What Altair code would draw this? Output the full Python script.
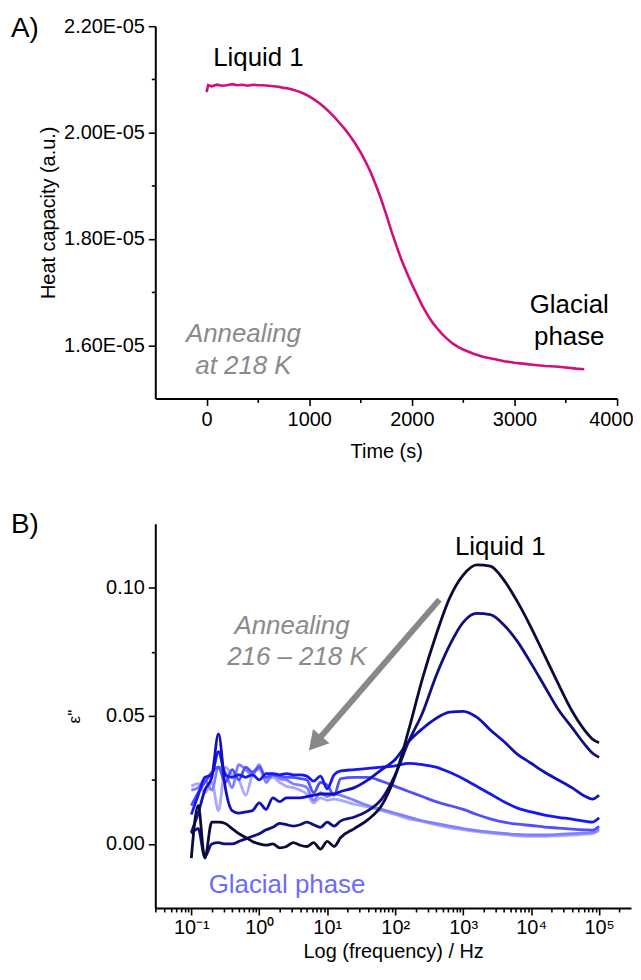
import altair as alt
import pandas as pd

FONT = "Liberation Sans"

# ---------------- Panel A data (heat capacity in units of 1E-05) ----------------
time_s = [0, 15, 50, 100, 150, 200, 250, 300, 350, 400, 450, 500, 550, 600, 650, 700,
          750, 800, 850, 900, 950, 1000, 1050, 1100, 1150, 1200, 1250, 1300, 1350, 1400,
          1450, 1500, 1550, 1600, 1650, 1700, 1750, 1800, 1850, 1900, 1950, 2000, 2050,
          2100, 2150, 2200, 2250, 2300, 2350, 2400, 2450, 2500, 2600, 2700, 2800, 2900,
          3000, 3100, 3200, 3300, 3400, 3500, 3600, 3680]
heat_cap = [2.076, 2.089, 2.087, 2.090, 2.088, 2.089, 2.091, 2.089, 2.090, 2.088, 2.090,
            2.089, 2.089, 2.088, 2.087, 2.086, 2.084, 2.083, 2.080, 2.077, 2.073, 2.068,
            2.062, 2.055, 2.047, 2.038, 2.028, 2.017, 2.006, 1.993, 1.979, 1.963, 1.945,
            1.925, 1.901, 1.875, 1.846, 1.815, 1.787, 1.760, 1.737, 1.715, 1.695, 1.675,
            1.658, 1.643, 1.631, 1.620, 1.611, 1.603, 1.597, 1.592, 1.584, 1.578, 1.574,
            1.570, 1.567, 1.565, 1.563, 1.561, 1.560, 1.558, 1.556, 1.555]

# ---------------- Panel B data ----------------
freq = [0.1, 0.126, 0.158, 0.2, 0.251, 0.316, 0.398, 0.501, 0.631, 0.794, 1, 1.26, 1.58,
        2, 2.51, 3.16, 3.98, 5.01, 6.31, 7.94, 10, 12.6, 15.8, 25.1, 39.8, 63.1, 100, 158,
        251, 398, 631, 1000, 1585, 2512, 3981, 6310, 10000, 15850, 25120, 39810, 63100,
        79430, 100000]

eps_L1 = [-0.0055, 0.015, -0.0055, 0.0085, 0.0085, 0.0080, 0.0060, 0.0040, 0.0025, 0.0010,
          0.0000, -0.0005, 0.0000, -0.0015, -0.0010, 0.0005, -0.0005, -0.0010, 0.0005,
          -0.0020, 0.0010, -0.0010, 0.0025, 0.0060, 0.0095, 0.0150, 0.0265, 0.0445, 0.0645,
          0.0815, 0.0960, 0.1050, 0.1090, 0.1085, 0.1030, 0.0945, 0.0845, 0.0735, 0.0625,
          0.0520, 0.0440, 0.0410, 0.0395]
eps_L2 = [0.0040, 0.0060, -0.0050, 0.0000, 0.0005, 0.0000, 0.0000, 0.0010, 0.0020, 0.0030,
          0.0040, 0.0055, 0.0065, 0.0080, 0.0075, 0.0070, 0.0075, 0.0085, 0.0075, 0.0065,
          0.0085, 0.0070, 0.0090, 0.0105, 0.0130, 0.0175, 0.0270, 0.0400, 0.0510, 0.0655,
          0.0775, 0.0865, 0.0900, 0.0895, 0.0855, 0.0790, 0.0705, 0.0615, 0.0525, 0.0455,
          0.0385, 0.0355, 0.0338]
eps_L3 = [0.0045, 0.0120, 0.0210, 0.0260, 0.0430, 0.0220, 0.0130, 0.0120, 0.0125, 0.0130,
          0.0160, 0.0135, 0.0180, 0.0165, 0.0180, 0.0180, 0.0180, 0.0185, 0.0190, 0.0195,
          0.0195, 0.0195, 0.0205, 0.0220, 0.0250, 0.0290, 0.0330, 0.0400, 0.0450, 0.0490,
          0.0515, 0.0518, 0.0495, 0.0445, 0.0400, 0.0350, 0.0315, 0.0280, 0.0250, 0.0220,
          0.0185, 0.0175, 0.0190]
eps_L4 = [0.0115, 0.0190, 0.0260, 0.0270, 0.0360, 0.0270, 0.0260, 0.0270, 0.0260, 0.0270,
          0.0250, 0.0275, 0.0275, 0.0270, 0.0275, 0.0270, 0.0270, 0.0265, 0.0245, 0.0265,
          0.0215, 0.0270, 0.0285, 0.0290, 0.0295, 0.0300, 0.0305, 0.0315, 0.0310, 0.0300,
          0.0280, 0.0255, 0.0225, 0.0195, 0.0165, 0.0140, 0.0125, 0.0113, 0.0104, 0.0097,
          0.0088, 0.0085, 0.0102]
eps_L5 = [0.0150, 0.0200, 0.0240, 0.0280, 0.0300, 0.0240, 0.0290, 0.0250, 0.0300, 0.0280,
          0.0300, 0.0260, 0.0270, 0.0265, 0.0260, 0.0260, 0.0255, 0.0250, 0.0200, 0.0240,
          0.0230, 0.0190, 0.0255, 0.0260, 0.0260, 0.0245, 0.0225, 0.0205, 0.0185, 0.0165,
          0.0150, 0.0135, 0.0115, 0.0098, 0.0085, 0.0077, 0.0072, 0.0066, 0.0062, 0.0058,
          0.0055, 0.0054, 0.0069]
eps_L6 = [0.0210, 0.0220, 0.0250, 0.0210, 0.0300, 0.0280, 0.0220, 0.0310, 0.0290, 0.0270,
          0.0310, 0.0240, 0.0270, 0.0255, 0.0250, 0.0235, 0.0230, 0.0220, 0.0170, 0.0200,
          0.0185, 0.0195, 0.0190, 0.0170, 0.0150, 0.0135, 0.0120, 0.0105, 0.0090, 0.0080,
          0.0070, 0.0060, 0.0052, 0.0046, 0.0041, 0.0037, 0.0035, 0.0035, 0.0037, 0.0040,
          0.0043, 0.0045, 0.0060]
eps_L7 = [0.0225, 0.0235, 0.0200, 0.0240, 0.0130, 0.0300, 0.0270, 0.0250, 0.0190, 0.0270,
          0.0290, 0.0250, 0.0260, 0.0240, 0.0225, 0.0220, 0.0210, 0.0195, 0.0160, 0.0180,
          0.0170, 0.0175, 0.0170, 0.0155, 0.0145, 0.0130, 0.0115, 0.0098, 0.0088, 0.0075,
          0.0064, 0.0056, 0.0048, 0.0042, 0.0037, 0.0032, 0.0030, 0.0030, 0.0032, 0.0035,
          0.0038, 0.0040, 0.0052]

series_B = [eps_L7, eps_L6, eps_L5, eps_L4, eps_L3, eps_L2, eps_L1]
colors_B = ["#a8a8ff", "#8080ff", "#5050ff", "#1818f5", "#1010c0", "#0e0e80", "#0b0b3a"]

# annotations
ann_A = pd.DataFrame({
    "t": [505, 3534, 3534], "cp": [2.140, 1.675, 1.615],
    "txt": ["Liquid 1", "Glacial", "phase"]})
ann_A_gray = pd.DataFrame({"t": [359, 359], "cp": [1.621, 1.561],
                           "txt": ["Annealing", "at 218 K"]})
ann_B = pd.DataFrame({"f": [3510], "e": [0.1161], "txt": ["Liquid 1"]})
ann_B_gray = pd.DataFrame({"f": [3.03, 3.58], "e": [0.0849, 0.0728],
                           "txt": ["Annealing", "216 – 218 K"]})
ann_B_blue = pd.DataFrame({"f": [2.56], "e": [-0.0159], "txt": ["Glacial phase"]})
arrow_line = pd.DataFrame({"f": [448], "e": [0.0954], "f2": [7.0], "e2": [0.0400]})
arrow_head = pd.DataFrame({"f": [6.62], "e": [0.0393]})

# tick values
ticks_A_x = [0, 500, 1000, 1500, 2000, 2500, 3000, 3500, 4000]
ticks_A_y = [1.6, 1.7, 1.8, 1.9, 2.0, 2.1, 2.2]
ticks_B_y = [0.0, 0.025, 0.05, 0.075, 0.1]
majors_B = [0.1, 1, 10, 100, 1000, 10000, 100000]
minors_B = [0.03, 0.04, 0.05, 0.06, 0.07, 0.08, 0.09,
            0.2, 0.3, 0.4, 0.5, 0.6, 0.7, 0.8, 0.9,
            2, 3, 4, 5, 6, 7, 8, 9,
            20, 30, 40, 50, 60, 70, 80, 90,
            200, 300, 400, 500, 600, 700, 800, 900,
            2000, 3000, 4000, 5000, 6000, 7000, 8000, 9000,
            20000, 30000, 40000, 50000, 60000, 70000, 80000, 90000, 200000]

W_A, H_A = 464, 374
W_B, H_B = 478, 386

common_axis = dict(domainColor="black", domainWidth=2, tickColor="black", tickWidth=1.6,
                   labelColor="black", titleColor="black", labelFont=FONT, titleFont=FONT,
                   labelFontSize=20, titleFontSize=20, titleFontWeight="normal",
                   grid=False, labelOverlap=False)

# ---------------- Panel A ----------------
dfA = pd.DataFrame({"t": time_s, "cp": heat_cap})
xA_scale = alt.Scale(domain=[-500, 4000], nice=False, zero=False)
yA_scale = alt.Scale(domain=[1.5, 2.2], nice=False, zero=False)
xA_axis = alt.Axis(values=ticks_A_x, format="d", title="Time (s)",
                   labelExpr="datum.value % 1000 === 0 ? datum.label : ''",
                   tickSize={"condition": {"test": "datum.value % 1000 === 0", "value": 7}, "value": 4},
                   labelFlush=True, labelFlushOffset=16,
                   labelPadding=4, titlePadding=12, **common_axis)
yA_axis = alt.Axis(values=ticks_A_y, title="Heat capacity (a.u.)",
                   labelExpr="abs(round(datum.value*10)) % 2 == 0 ? format(datum.value, '.2f') + 'E-05' : ''",
                   tickSize={"condition": {"test": "abs(round(datum.value*10)) % 2 == 0", "value": 7}, "value": 4},
                   labelFlush=False, labelPadding=4, titlePadding=5, **common_axis)


def encA(extra=None):
    d = dict(x=alt.X("t:Q", scale=xA_scale, axis=xA_axis),
             y=alt.Y("cp:Q", scale=yA_scale, axis=yA_axis))
    if extra:
        d.update(extra)
    return d


lineA = alt.Chart(dfA).mark_line(color="#d0107a", strokeWidth=2.6).encode(**encA())
txtA = alt.Chart(ann_A).mark_text(font=FONT, fontSize=26, color="black").encode(
    **encA({"text": "txt:N"}))
txtA_gray = alt.Chart(ann_A_gray).mark_text(font=FONT, fontSize=26, fontStyle="italic",
                                             color="#8a8a8a").encode(**encA({"text": "txt:N"}))
labelA = alt.Chart(pd.DataFrame({"txt": ["A)"]})).mark_text(
    font=FONT, fontSize=28, align="left", baseline="middle", color="black").encode(
    x=alt.value(-145), y=alt.value(3), text="txt:N")
panelA = alt.layer(lineA, txtA, txtA_gray, labelA).properties(width=W_A, height=H_A)

# ---------------- Panel B ----------------
sup = {0.1: "10⁻¹", 1: "10⁰", 10: "10¹", 100: "10²", 1000: "10³", 10000: "10⁴", 100000: "10⁵"}
label_expr_B = " : ".join([f"datum.value == {k} ? '{v}'" for k, v in sup.items()]) + " : ''"
major_test_B = "abs(log(datum.value)/LN10 - round(log(datum.value)/LN10)) < 0.001"

xB_scale = alt.Scale(type="log", domain=[0.0295, 295000], nice=False)
yB_scale = alt.Scale(domain=[-0.025, 0.125], nice=False, zero=False)
xB_axis = alt.Axis(values=sorted(majors_B + minors_B), title="Log (frequency) / Hz",
                   labelExpr=label_expr_B,
                   tickSize={"condition": {"test": major_test_B, "value": 7}, "value": 4},
                   labelFlush=False, labelPadding=3, titlePadding=4, **common_axis)
yB_axis = alt.Axis(values=ticks_B_y, title="ε''",
                   labelExpr="abs(round(datum.value*40)) % 2 == 0 ? format(datum.value, '.2f') : ''",
                   tickSize={"condition": {"test": "abs(round(datum.value*40)) % 2 == 0", "value": 7}, "value": 4},
                   labelFlush=False, labelPadding=4, titleX=-81, titleBaseline="middle",
                   **{**common_axis, "titleFontSize": 17})


def encB(extra=None):
    d = dict(x=alt.X("f:Q", scale=xB_scale, axis=xB_axis),
             y=alt.Y("e:Q", scale=yB_scale, axis=yB_axis))
    if extra:
        d.update(extra)
    return d


layersB = []
for vals, col in zip(series_B, colors_B):
    df = pd.DataFrame({"f": freq, "e": vals})
    layersB.append(alt.Chart(df).mark_line(color=col, strokeWidth=2.8,
                                           interpolate="monotone").encode(**encB()))

arrowB = alt.Chart(arrow_line).mark_rule(color="#888888", strokeWidth=6).encode(
    **encB({"x2": "f2:Q", "y2": "e2:Q"}))
headB = alt.Chart(arrow_head).mark_point(shape="triangle-up", filled=True, size=480,
                                         color="#888888", opacity=1, angle=221).encode(**encB())
txtB = alt.Chart(ann_B).mark_text(font=FONT, fontSize=26, color="black").encode(
    **encB({"text": "txt:N"}))
txtB_gray = alt.Chart(ann_B_gray).mark_text(font=FONT, fontSize=26, fontStyle="italic",
                                             color="#8a8a8a").encode(**encB({"text": "txt:N"}))
txtB_blue = alt.Chart(ann_B_blue).mark_text(font=FONT, fontSize=26, color="#6b6bff").encode(
    **encB({"text": "txt:N"}))
labelB = alt.Chart(pd.DataFrame({"txt": ["B)"]})).mark_text(
    font=FONT, fontSize=28, align="left", baseline="middle", color="black").encode(
    x=alt.value(-145), y=alt.value(1), text="txt:N")

panelB = alt.layer(*layersB, arrowB, headB, txtB, txtB_gray, txtB_blue, labelB).properties(
    width=W_B, height=H_B)

chart = alt.vconcat(panelA, panelB, spacing=126, bounds="flush").properties(
    padding={"left": 3, "top": 5, "right": 0, "bottom": 0}
).configure_view(stroke=None)

chart.save("out.html", embed_options={"renderer": "svg", "actions": False})
